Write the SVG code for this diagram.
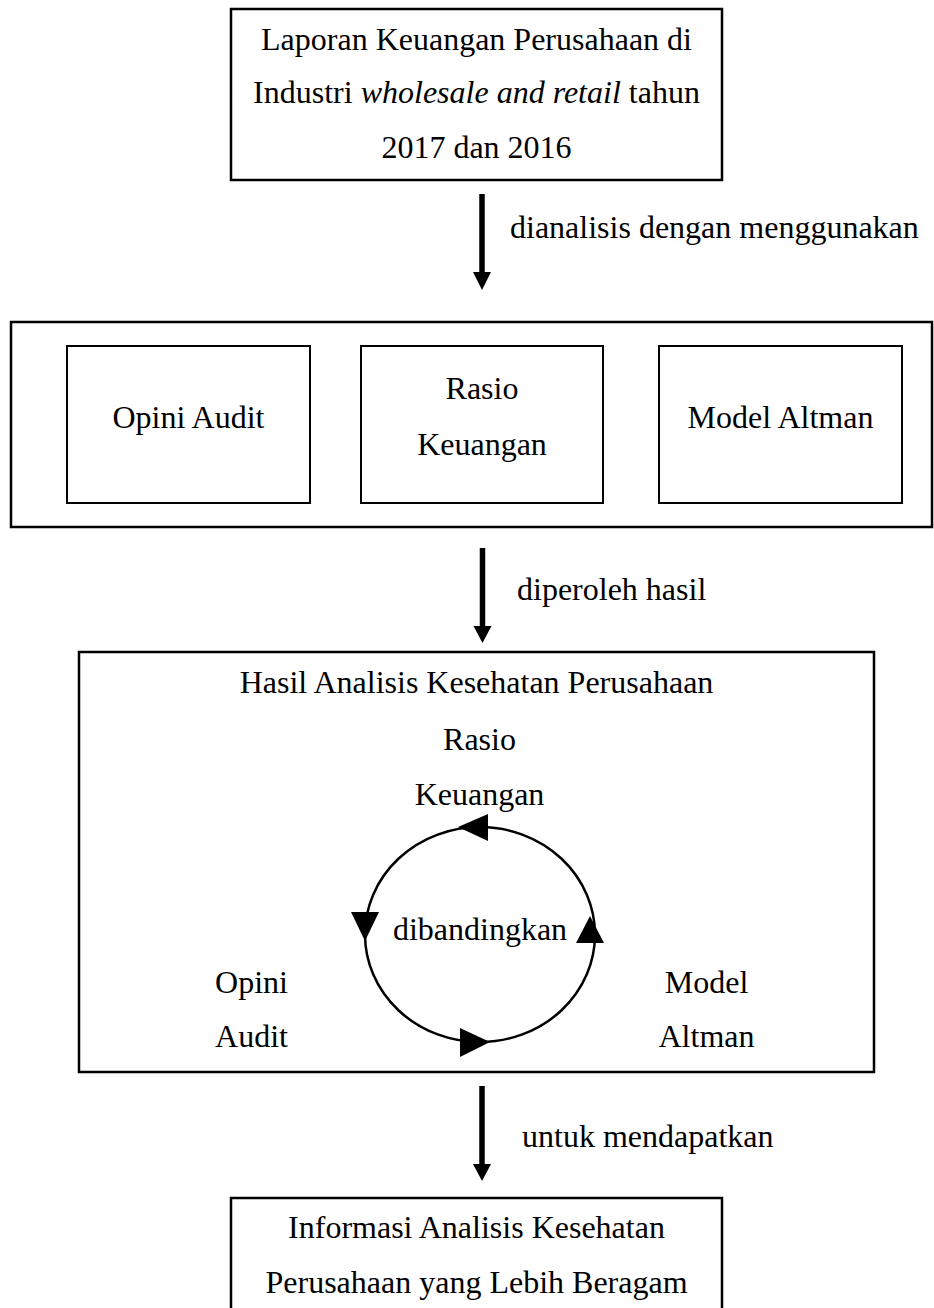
<svg xmlns="http://www.w3.org/2000/svg" width="934" height="1308" viewBox="0 0 934 1308">
<style>
  .box { fill: #fff; stroke: #000; stroke-width: 2.5; }
  .inner { fill: #fff; stroke: #000; stroke-width: 2; }
  text { font-family: "Liberation Serif", "Times New Roman", serif; font-size: 32px; fill: #000; }
  .c { text-anchor: middle; }
  .head { fill: #000; stroke: none; }
  .shaft { stroke: #000; stroke-width: 5.5; fill: none; }
  .ring { stroke: #000; stroke-width: 2.5; fill: none; }
</style>
<rect width="934" height="1308" fill="#fff"/>

<g id="node-laporan">
  <rect class="box" x="231" y="9" width="491" height="171"/>
  <text class="c" x="476.5" y="50">Laporan Keuangan Perusahaan di</text>
  <text class="c" x="476.5" y="103">Industri <tspan font-style="italic">wholesale and retail</tspan> tahun</text>
  <text class="c" x="476.5" y="158">2017 dan 2016</text>
</g>

<g id="node-metode">
  <rect class="box" x="11" y="322" width="921" height="205"/>
  <g id="node-opini-audit">
    <rect class="inner" x="67" y="346" width="243" height="157"/>
    <text class="c" x="188.5" y="428">Opini Audit</text>
  </g>
  <g id="node-rasio-keuangan">
    <rect class="inner" x="361" y="346" width="242" height="157"/>
    <text class="c" x="482" y="399">Rasio</text>
    <text class="c" x="482" y="455">Keuangan</text>
  </g>
  <g id="node-model-altman">
    <rect class="inner" x="659" y="346" width="243" height="157"/>
    <text class="c" x="780.5" y="428">Model Altman</text>
  </g>
</g>

<g id="node-hasil">
  <rect class="box" x="79" y="652" width="795" height="420"/>
  <text class="c" x="476.5" y="693">Hasil Analisis Kesehatan Perusahaan</text>
  <text class="c" x="479.5" y="750">Rasio</text>
  <text class="c" x="479.5" y="805">Keuangan</text>
  <text class="c" x="480" y="940">dibandingkan</text>
  <text class="c" x="251.5" y="993">Opini</text>
  <text class="c" x="251.5" y="1047">Audit</text>
  <text class="c" x="706.5" y="993">Model</text>
  <text class="c" x="706.5" y="1047">Altman</text>
</g>

<g id="node-informasi">
  <rect class="box" x="231" y="1198" width="491" height="130"/>
  <text class="c" x="476.5" y="1238">Informasi Analisis Kesehatan</text>
  <text class="c" x="476.5" y="1293">Perusahaan yang Lebih Beragam</text>
</g>

<g id="connectors">
  <g id="arrow-1">
    <line class="shaft" x1="482" y1="194" x2="482" y2="274"/>
    <path class="head" d="M473,272 L491,272 L482,290 Z"/>
    <text x="510" y="238">dianalisis dengan menggunakan</text>
  </g>
  <g id="arrow-2">
    <line class="shaft" x1="482.5" y1="548" x2="482.5" y2="628"/>
    <path class="head" d="M473.5,626 L491.5,626 L482.5,643 Z"/>
    <text x="517" y="600">diperoleh hasil</text>
  </g>
  <g id="arrow-3">
    <line class="shaft" x1="482" y1="1086" x2="482" y2="1166"/>
    <path class="head" d="M473,1164 L491,1164 L482,1181 Z"/>
    <text x="522" y="1147">untuk mendapatkan</text>
  </g>
  <g id="cycle">
    <ellipse class="ring" cx="480" cy="934.5" rx="115" ry="107.5"/>
    <path class="head" d="M458,827 L488,814 L488,841 Z"/>
    <path class="head" d="M365,941 L351,912 L379,912 Z"/>
    <path class="head" d="M590,916 L576,943 L604,943 Z"/>
    <path class="head" d="M490,1042 L460,1028 L460,1057 Z"/>
  </g>
</g>
</svg>
